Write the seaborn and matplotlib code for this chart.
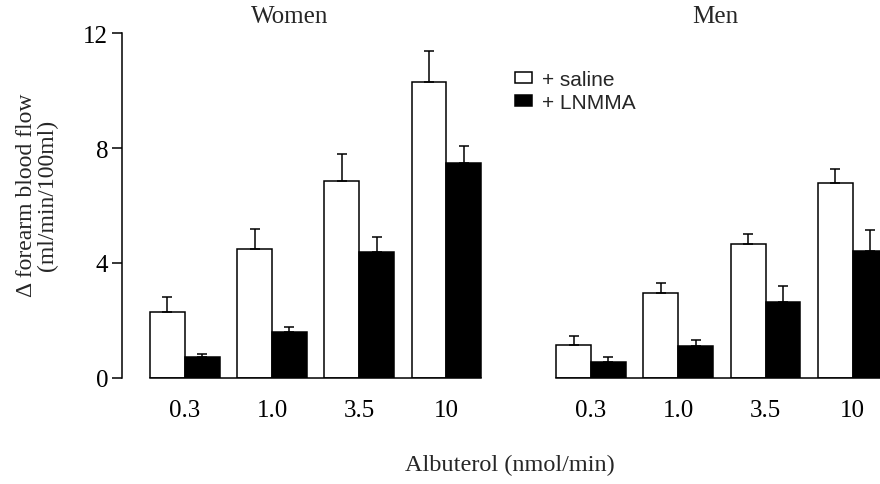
import numpy as np
import pandas as pd
import matplotlib
matplotlib.use("Agg")
import matplotlib.pyplot as plt
from matplotlib.patches import Patch
import seaborn as sns

doses = ["0.3", "1.0", "3.5", "10"]
treatments = ["+ saline", "+ LNMMA"]
women_saline = [2.28, 4.47, 6.86, 10.30]
women_saline_err = [0.54, 0.71, 0.92, 1.07]
women_lnmma = [0.72, 1.61, 4.39, 7.47]
women_lnmma_err = [0.11, 0.16, 0.52, 0.61]
men_saline = [1.16, 2.95, 4.67, 6.79]
men_saline_err = [0.30, 0.35, 0.34, 0.47]
men_lnmma = [0.57, 1.10, 2.65, 4.43]
men_lnmma_err = [0.17, 0.23, 0.54, 0.73]
y_ticks = [0, 4, 8, 12]

sns.set_style("white")
plt.rcParams["font.family"] = ["Liberation Serif", "DejaVu Serif"]

W, H = 880, 485
fig = plt.figure(figsize=(W / 100, H / 100), dpi=100)

def frame(vals_s, vals_l):
    return pd.DataFrame({
        "dose": doses * 2,
        "treatment": [treatments[0]] * 4 + [treatments[1]] * 4,
        "flow": list(vals_s) + list(vals_l),
    })

ax_w = fig.add_axes([122 / W, 106 / H, 368 / W, 345 / H])
ax_m = fig.add_axes([547.4 / W, 106 / H, 349 / W, 345 / H])

panels = [
    (ax_w, women_saline, women_saline_err, women_lnmma, women_lnmma_err, (-0.72, 3.5)),
    (ax_m, men_saline, men_saline_err, men_lnmma, men_lnmma_err, (-0.5, 3.5)),
]

lw = 1.1
fs = 18
for ax, s, se, l, le, xl in panels:
    df = frame(s, l)
    sns.barplot(data=df, x="dose", y="flow", hue="treatment",
                order=doses, hue_order=treatments,
                palette=["white", "black"], edgecolor="black",
                linewidth=lw, errorbar=None, width=0.8, ax=ax,
                saturation=1)
    for cont, errs in zip(ax.containers, [se, le]):
        xs = [p.get_x() + p.get_width() / 2 for p in cont.patches]
        hs = [p.get_height() for p in cont.patches]
        ax.errorbar(xs, hs, yerr=[np.zeros(len(errs)), errs], fmt="none",
                    ecolor="black", elinewidth=lw, capsize=3.6,
                    capthick=lw, zorder=1)
    ax.set_xlim(*xl)
    ax.set_ylim(0, 12)
    ax.set_xlabel("")
    ax.set_ylabel("")
    if ax.get_legend() is not None:
        ax.get_legend().remove()
    for sp in ["top", "right"]:
        ax.spines[sp].set_visible(False)
    ax.spines["bottom"].set_bounds(-0.4, 3.4)
    ax.spines["bottom"].set_linewidth(lw)
    ax.spines["bottom"].set_color("black")
    ax.spines["left"].set_linewidth(lw)
    ax.spines["left"].set_color("black")
    ax.tick_params(axis="x", length=0, pad=15, labelsize=fs, colors="black")
    ax.set_facecolor("none")

ax_w.set_yticks(y_ticks)
ax_w.tick_params(axis="y", left=True, direction="out", length=7, width=lw,
                 pad=3, labelsize=fs, colors="black")
ax_m.spines["left"].set_visible(False)
ax_m.set_yticks([])

fig.text(290 / W, 1 - 17 / H, "Women", ha="center", va="center", fontsize=fs)
fig.text(715 / W, 1 - 17 / H, "Men", ha="center", va="center", fontsize=fs)
fig.text(510 / W, 1 - 465 / H, "Albuterol (nmol/min)", ha="center",
         va="center", fontsize=17.5)
fig.text(37 / W, 1 - 195 / H, "\u0394 forearm blood flow\n(ml/min/100ml)",
         ha="center", va="center", rotation=90, fontsize=17, linespacing=1.0)

hnd = [Patch(facecolor="white", edgecolor="black", linewidth=lw),
       Patch(facecolor="black", edgecolor="black", linewidth=lw)]
fig.legend(hnd, treatments, loc="upper left",
           bbox_to_anchor=(515 / W, 1 - 71 / H), frameon=False,
           prop={"family": "Liberation Sans", "size": 15},
           handlelength=0.82, handleheight=0.43, handletextpad=0.48,
           labelspacing=0.2, borderaxespad=0, borderpad=0)

fig.savefig("out.png", dpi=100)
